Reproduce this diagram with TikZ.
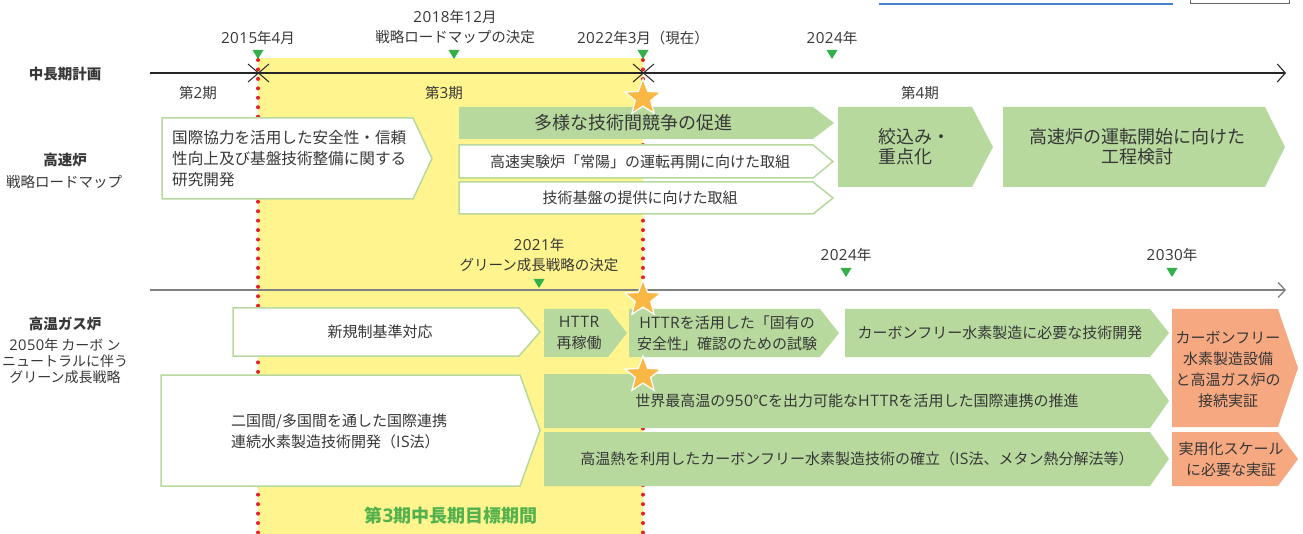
\documentclass[tikz,border=0pt]{standalone}
\usepackage{fontspec}
\setmainfont{Noto Sans CJK JP}
\newfontfamily\latnfont{Open Sans}[Scale=1.05,LetterSpace=3]
\newcommand\lnum[1]{{\latnfont #1}}
\usetikzlibrary{shapes.geometric,arrows.meta}
\definecolor{txt}{RGB}{55,55,55}
\definecolor{lgreen}{RGB}{183,217,158}
\definecolor{lorange}{RGB}{246,168,128}
\definecolor{yel}{RGB}{255,244,142}
\definecolor{tgreen}{RGB}{52,176,74}
\definecolor{reddot}{RGB}{232,30,40}
\definecolor{starc}{RGB}{250,183,68}
\definecolor{gtitle}{RGB}{84,178,78}
\definecolor{bluel}{RGB}{70,130,200}
\newcommand\chev[6]{\path[#1] (#2,#3) -- (#4,#3) -- (#5,{(#3+#6)/2}) -- (#4,#6) -- (#2,#6) -- cycle;}
\newcommand\dtri[2]{\fill[tgreen] ({#1-5.5},#2) -- ({#1+5.5},#2) -- (#1,{#2+9}) -- cycle;}
\begin{document}
\begin{tikzpicture}[x=1pt,y=-1pt,
  lab/.style={font=\fontsize{14.5}{17}\selectfont, text=txt, inner sep=0, align=center},
  boxtxt/.style={font=\fontsize{15}{21}\selectfont, text=txt, inner sep=0, align=center},
  bigtxt/.style={font=\fontsize{18}{20}\selectfont, text=txt, inner sep=0, align=center},
  head/.style={font=\fontsize{14.5}{17}\selectfont\bfseries, text=txt, inner sep=0},
  gbox/.style={fill=lgreen},
  wbox/.style={fill=white, draw=lgreen, line width=1.5},
  obox/.style={fill=lorange},
  reddots/.style={draw=reddot, line width=4, line cap=round, dash pattern=on 0pt off 9.45pt},
  tl1/.style={draw=black!85, line width=1.1, -{Straight Barb[length=8pt,width=18pt,line width=1.1pt]}},
  tl2/.style={draw=black!50, line width=1.8, -{Straight Barb[length=7pt,width=15pt,line width=1.3pt]}},
  crossm/.style={draw=black!85, line width=1},
  starn/.style={star, star points=5, star point ratio=2.35, minimum size=38, inner sep=0, fill=starc, draw=white, line width=1.2}
]
\useasboundingbox (0,0) rectangle (1303,534);
% top partial elements
\draw[bluel, line width=1.5] (879,4) -- (1173,4);
\draw[black!60, line width=1] (1190,-10) rectangle (1289,4);
% yellow period
\fill[yel] (258,58) rectangle (643,540);
% red dotted lines
\draw[reddots] (258,60) -- (258,534);
\draw[reddots] (643,60) -- (643,534);
% timelines
\coordinate (t1s) at (150,73); \coordinate (t1e) at (1286,73);
\draw[tl1] (t1s) -- (t1e);
\coordinate (t2s) at (150,290); \coordinate (t2e) at (1286,290);
\draw[tl2] (t2s) -- (t2e);
\draw[crossm] (248,64) -- (269,82) (248,82) -- (269,64);
\draw[crossm] (633,64) -- (654,82) (633,82) -- (654,64);
% triangles
\dtri{258}{50} \dtri{454}{50} \dtri{643}{50} \dtri{832}{50}
\dtri{539}{279} \dtri{846}{268} \dtri{1172}{268}
% timeline labels
\node[lab] (d2015) at (258,38) {\lnum{2015}年\lnum{4}月};
\node[lab] (d2018a) at (455,17) {\lnum{2018}年\lnum{12}月};
\node[lab] (d2018b) at (455,37) {戦略ロードマップの決定};
\node[lab] (d2022) at (643,38) {\lnum{2022}年\lnum{3}月（現在）};
\node[lab] (d2024) at (832,38) {\lnum{2024}年};
\node[lab] (p2) at (198,93) {第\lnum{2}期};
\node[lab] (p3) at (444,93) {第\lnum{3}期};
\node[lab] (p4) at (920,93) {第\lnum{4}期};
\node[lab] (g2021a) at (539,245) {\lnum{2021}年};
\node[lab] (g2021b) at (539,265) {グリーン成長戦略の決定};
\node[lab] (g2024) at (846,255) {\lnum{2024}年};
\node[lab] (g2030) at (1172,255) {\lnum{2030}年};
% left headings
\node[head] (h1) at (65,74) {中長期計画};
\node[head] (h2) at (65,160) {高速炉};
\node[lab] (h2b) at (64,182) {戦略ロードマップ};
\node[head] (h3) at (65,324) {高温ガス炉};
\node[lab, font=\fontsize{14}{16}\selectfont] (h3b) at (65,361) {\lnum{2050}年 カーボ ン\\ニュートラルに伴う\\グリーン成長戦略};
% fast reactor boxes
\chev{wbox}{162}{118}{413}{432}{199}
\node[boxtxt, font=\fontsize{15.6}{21}\selectfont, align=left, anchor=west] (fr1) at (172,159) {国際協力を活用した安全性・信頼\\性向上及び基盤技術整備に関する\\研究開発};
\chev{gbox}{459}{107}{813}{834}{139}
\node[bigtxt] (fr2) at (633,123) {多様な技術間競争の促進};
\chev{wbox}{459}{145}{813}{833}{178}
\node[boxtxt] (fr3) at (640,162) {高速実験炉「常陽」の運転再開に向けた取組};
\chev{wbox}{459}{182}{813}{833}{214}
\node[boxtxt] (fr4) at (640,198) {技術基盤の提供に向けた取組};
\chev{gbox}{838}{107}{972}{993}{187}
\node[bigtxt, align=left, anchor=west] (fr5) at (878,147) {絞込み・\\重点化};
\chev{gbox}{1003}{107}{1265}{1285}{187}
\node[bigtxt] (fr6) at (1137,147) {高速炉の運転開始に向けた\\工程検討};
% HTGR boxes
\chev{wbox}{233}{308}{519}{540}{356}
\node[boxtxt] (ht1) at (380,332) {新規制基準対応};
\chev{gbox}{544}{309}{608}{627}{357}
\node[boxtxt] (ht2) at (579,333) {\lnum{HTTR}\\再稼働};
\chev{gbox}{629}{309}{820}{839}{357}
\node[boxtxt] (ht3) at (727,333) {\lnum{HTTR}を活用した「固有の\\安全性」確認のための試験};
\chev{gbox}{845}{309}{1150}{1169}{357}
\node[boxtxt] (ht4) at (1000,333) {カーボンフリー水素製造に必要な技術開発};
\chev{obox}{1172}{309}{1278}{1298}{427}
\node[boxtxt] (ht5) at (1228,369) {カーボンフリー\\水素製造設備\\と高温ガス炉の\\接続実証};
\chev{wbox}{161}{375}{520}{540}{486}
\node[boxtxt, align=left, anchor=west] (ht6) at (231,431) {二国間/多国間を通した国際連携\\連続水素製造技術開発（\lnum{IS}法）};
\chev{gbox}{544}{374}{1150}{1169}{428}
\node[boxtxt] (ht7) at (857,401) {世界最高温の\lnum{950}℃を出力可能な\lnum{HTTR}を活用した国際連携の推進};
\chev{gbox}{544}{432}{1150}{1169}{486}
\node[boxtxt] (ht8) at (857,459) {高温熱を利用したカーボンフリー水素製造技術の確立（\lnum{IS}法、メタン熱分解法等）};
\chev{obox}{1172}{432}{1278}{1298}{486}
\node[boxtxt] (ht9) at (1231,459) {実用化スケール\\に必要な実証};
% period title
\node[font=\fontsize{18}{20}\selectfont\bfseries, text=gtitle, inner sep=0] (ptitle) at (451,516) {第\lnum{\bfseries 3}期中長期目標期間};
% stars
\node[starn] (s1) at (643,98) {};
\node[starn] (s2) at (643,299) {};
\node[starn] (s3) at (643,375) {};
\end{tikzpicture}
\end{document}
